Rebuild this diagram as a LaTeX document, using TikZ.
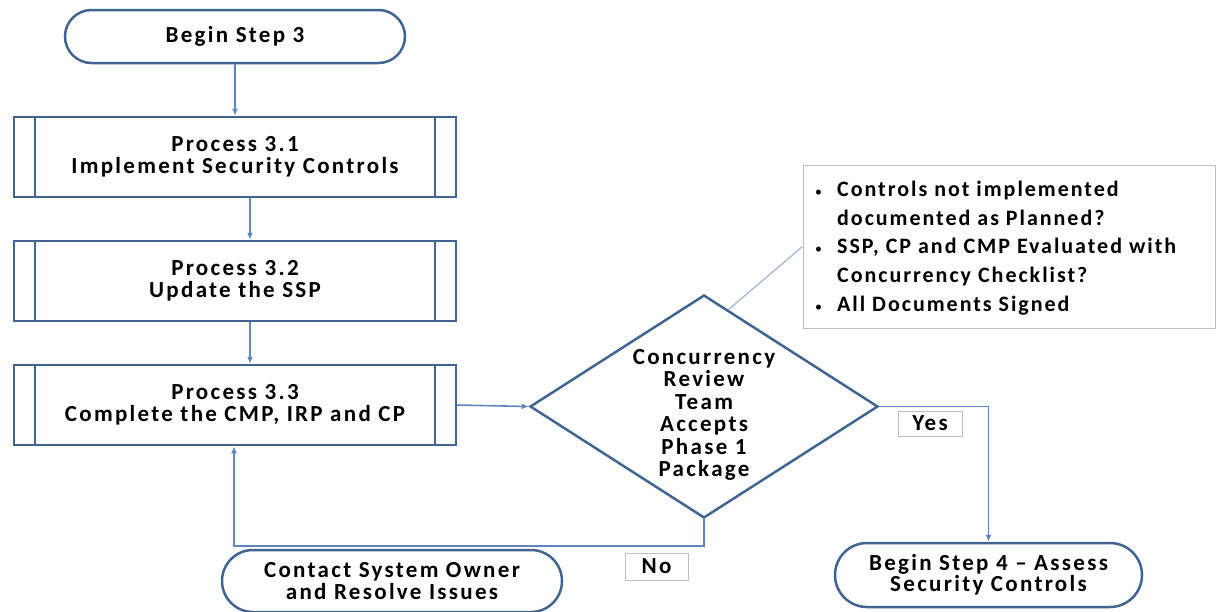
\documentclass[tikz,border=0pt]{standalone}
\usepackage{fontspec}
\setmainfont{Carlito}
\newfontfamily\labfont{Carlito}[LetterSpace=10]
\newfontfamily\notefont{Carlito}[LetterSpace=9]
\usetikzlibrary{shapes.geometric,arrows.meta,calc}
\definecolor{edgeblue}{RGB}{65,100,145}
\definecolor{linkblue}{RGB}{95,135,190}
\definecolor{calloutgray}{RGB}{190,190,190}
\newcommand{\smallbul}{{\normalfont\fontsize{14}{14}\selectfont\textbullet}}
\begin{document}
\begin{tikzpicture}[x=1pt,y=-1pt,
  font=\labfont\bfseries\fontsize{23}{22.5}\selectfont,
  term/.style={draw=edgeblue, line width=2.5pt, fill=white, align=center, inner sep=0pt},
  procbox/.style={draw=edgeblue, line width=2.5pt, fill=white, align=center, inner sep=0pt,
    minimum width=442pt, minimum height=80pt,
    path picture={
      \draw[edgeblue, line width=2.5pt] ([xshift=21pt]path picture bounding box.north west) -- ([xshift=21pt]path picture bounding box.south west);
      \draw[edgeblue, line width=2.5pt] ([xshift=-21pt]path picture bounding box.north east) -- ([xshift=-21pt]path picture bounding box.south east);
    }},
  decision/.style={draw=edgeblue, line width=2.5pt, shape=diamond, inner sep=0pt, minimum width=348pt, minimum height=223pt},
  tag/.style={draw=calloutgray, line width=1pt, fill=white, inner sep=0pt},
  flow/.style={draw=linkblue, line width=1.6pt, -{Latex[length=7pt,width=6pt]}},
]
\useasboundingbox (0,0) rectangle (1216,611);

\node[term, minimum width=340pt, minimum height=53pt, rounded corners=26.5pt] (s3) at (235,36.5) {Begin Step 3};
\node[procbox] (p1) at (235,157) {Process 3.1\\Implement Security Controls};
\node[procbox] (p2) at (235,281) {Process 3.2\\Update the SSP};
\node[procbox] (p3) at (235,405) {Process 3.3\\Complete the CMP, IRP and CP};

\node[decision] (d) at (704,406.5) {};
\node[align=center] (dt) at (704,415) {Concurrency\\Review\\Team\\Accepts\\Phase 1\\Package};

\node[tag, minimum width=412pt, minimum height=163pt] (cb) at (1009,246.5) {};
\node[anchor=west, inner sep=0pt, font=\notefont\bfseries\fontsize{22}{28.7}\selectfont] (ct) at (815,248)
 {\begin{tabular}{@{}l@{\hspace{15pt}}l@{}}
 \smallbul & Controls not implemented\\
  & documented as Planned?\\
 \smallbul & SSP, CP and CMP Evaluated with\\
  & Concurrency Checklist?\\
 \smallbul & All Documents Signed
 \end{tabular}};
\draw[linkblue!70, line width=1pt] ($(d.north)!0.14!(d.east)$) -- (cb.west);

\node[term, minimum width=307pt, minimum height=64pt, rounded corners=32pt, font=\labfont\bfseries\fontsize{23}{21}\selectfont] (s4) at (988.5,575) {Begin Step 4 \textendash\ Assess\\Security Controls};
\node[term, minimum width=340pt, minimum height=62pt, rounded corners=31pt, font=\labfont\bfseries\fontsize{23}{22}\selectfont] (co) at (392,581) {Contact System Owner\\and Resolve Issues};

\node[tag, minimum width=64pt, minimum height=25pt] (yes) at (930,423.5) {Yes};
\node[tag, minimum width=63pt, minimum height=27pt] (no) at (656.5,566.5) {No};

\draw[flow] (s3.south) -- (p1.north);
\draw[flow] ([xshift=15pt]p1.south) -- ([xshift=15pt]p2.north);
\draw[flow] ([xshift=15pt]p2.south) -- ([xshift=15pt]p3.north);
\draw[flow] (p3.east) -- (d.west);
\draw[flow] (d.east) -| (s4.north);
\coordinate (nobend) at ($(d.south)+(0,27)$);
\draw[flow] (d.south) -- (nobend) -| ([xshift=-1pt]p3.south);
\end{tikzpicture}
\end{document}
